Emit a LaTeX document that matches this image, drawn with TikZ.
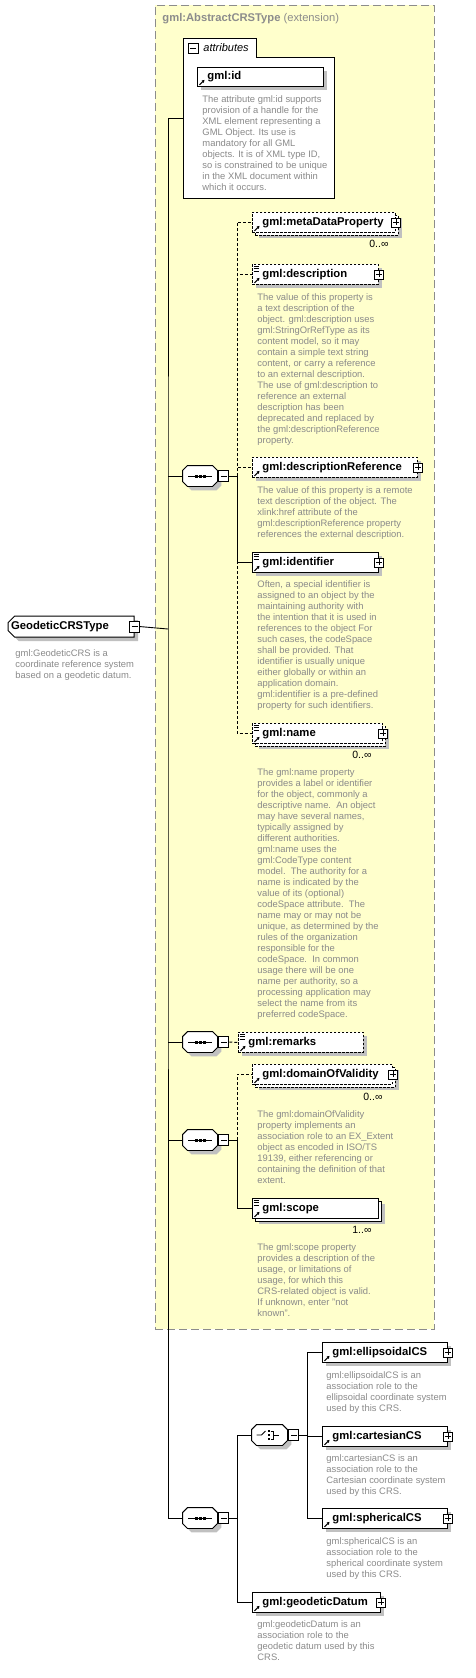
\documentclass[tikz,border=0pt]{standalone}
\usepackage{fontspec}
\setmainfont{Liberation Sans}
\usetikzlibrary{arrows.meta,positioning,shapes.misc,shadows}

\definecolor{xsyellow}{HTML}{FFFFCC}
\definecolor{xsframe}{HTML}{8C8C8C}
\definecolor{xsshadow}{HTML}{C0C0C0}
\definecolor{xsdoc}{HTML}{8A8A8A}

\newcommand{\labfont}{\fontsize{11.3}{13}\selectfont\bfseries}
\newcommand{\docfont}{\fontsize{9.4}{11}\selectfont}

% marks inside the element boxes
\newcommand{\refmark}[1]{\draw[line width=1.1pt,-{Triangle[length=2.6pt,width=3pt]}] ([shift={(2.5,-2)}]#1.south west) -- ++(5,-5);}
\newcommand{\docmark}[1]{\foreach \k in {2,4.5,7} \draw[line width=0.7pt,solid] ([shift={(1.5,\k)}]#1.north west) -- ++(5.5,0);}
\newcommand{\plusmark}[1]{\draw[line width=0.8pt,solid,fill=white] ([shift={(-4.5,-4.5)}]#1.east) rectangle ++(9,9);
  \draw[line width=0.8pt] ([shift={(-3,0)}]#1.east) -- ++(6,0) ([shift={(0,-3)}]#1.east) -- ++(0,6);}
% compositor outline and icons
\newcommand{\octapath}[1]{([xshift=5pt]#1.north west) -- ([xshift=-5pt]#1.north east) -- ([yshift=-5pt]#1.north east) -- ([yshift=5pt]#1.south east) -- ([xshift=-5pt]#1.south east) -- ([xshift=5pt]#1.south west) -- ([yshift=5pt]#1.south west) -- ([yshift=-5pt]#1.north west) -- cycle}
\newcommand{\octa}[1]{\fill[xsshadow,transform canvas={shift={(4pt,-4pt)}}] \octapath{#1};
  \draw[fill=white] \octapath{#1};}
\newcommand{\seqicon}[1]{\draw ([xshift=-12pt]#1.center) -- ([xshift=12pt]#1.center);
  \foreach \n in {-4,0,4} \fill ([shift={(\n-1.5,-1.5)}]#1.center) rectangle ++(3,3);}
\newcommand{\choiceicon}[1]{\draw ([xshift=-13pt]#1.center) -- ++(5,0) -- ++(4,-4);
  \foreach \n in {-4,0,4} \fill ([shift={(-2,\n-1.2)}]#1.center) rectangle ++(2.4,2.4);
  \draw ([shift={(1,-4)}]#1.center) -- ++(3,0) -- ++(0,8) -- ++(-3,0) ([shift={(4,0)}]#1.center) -- ++(5,0);}

\begin{document}
\begin{tikzpicture}[x=1pt,y=-1pt,line width=0.9pt,
  box/.style={draw,fill=white,anchor=north west,minimum height=20pt,text width=#1pt,inner xsep=0pt,inner ysep=0pt,align=left,font=\labfont,execute at begin node={\hspace*{10pt}}},
  elem/.style={box=#1,drop shadow={shadow xshift=4pt,shadow yshift=-4pt,fill=xsshadow,opacity=1}},
  opt/.style={elem=#1,dash pattern=on 2.5pt off 1.5pt},
  multi/.style={box=#1,drop shadow={shadow xshift=7pt,shadow yshift=-6pt,fill=xsshadow,opacity=1},copy shadow={shadow xshift=3pt,shadow yshift=-3pt}},
  optmulti/.style={multi=#1,dash pattern=on 2.5pt off 1.5pt},
  doc/.style={anchor=north west,inner sep=0pt,align=left,text=xsdoc,font=\docfont},
  mult/.style={anchor=north east,inner sep=0pt,font=\fontsize{10.5}{11}\selectfont},
  comp/.style={minimum width=34pt,minimum height=20pt,inner sep=0pt},
  minus/.style={draw,fill=white,minimum width=10pt,minimum height=11pt,inner sep=0pt,line width=0.8pt,path picture={\draw ([xshift=2pt]path picture bounding box.west) -- ([xshift=-2pt]path picture bounding box.east);}},
  link/.style={dash pattern=on 3pt off 2pt}]
\useasboundingbox (0,0) rectangle (475,1678);

% extension frame
\node[draw=xsframe,dash pattern=on 8pt off 4pt,fill=xsyellow,anchor=north west,minimum width=279pt,minimum height=1324pt,inner sep=0pt] (ext) at (155,5) {};
\node[anchor=west,inner sep=0pt,text=xsframe,font=\fontsize{11.2}{13}\selectfont] (title) at (162,19) {\textbf{gml:AbstractCRSType} (extension)};

% attributes
\node[anchor=north west,minimum width=151pt,minimum height=160pt,inner sep=0pt] (attr) at (183,38) {};
\draw[fill=white] (attr.north west) -- ++(73,0) -- ++(0,19) -| (attr.south east) -- (attr.south west) -- cycle;
\node[minus,minimum height=10pt] (attrM) at (193,48.5) {};
\node[anchor=west,inner sep=0pt,font=\fontsize{11}{12}\selectfont\itshape] (attrT) at (203,48) {attributes};
\node[elem=126,minimum height=19pt] (gmlid) at (197,67) {gml:id};
\refmark{gmlid}
\node[doc] (gmlidD) at (202,95) {The attribute gml:id supports\\provision of a handle for the\\XML element representing a\\GML Object. Its use is\\mandatory for all GML\\objects. It is of XML type ID,\\so is constrained to be unique\\in the XML document within\\which it occurs.};

% root
\node[chamfered rectangle,chamfered rectangle corners={north west,south west},chamfered rectangle xsep=3pt,draw,fill=white,anchor=north west,minimum width=126pt,minimum height=21pt,inner sep=0pt,font=\labfont,drop shadow={shadow xshift=4pt,shadow yshift=-4pt,fill=xsshadow,opacity=1}] (root) at (11,619) {\makebox[120pt][l]{GeodeticCRSType}};
\node[minus] (rootM) at (root.east) {};
\node[doc] (rootD) at (15,649) {gml:GeodeticCRS is a\\coordinate reference system\\based on a geodetic datum.};

% compositors
\node[comp] (s1) at (200,476) {};
\node[comp] (s2) at (200,1042) {};
\node[comp] (s3) at (200,1140) {};
\node[comp] (s4) at (200,1518) {};
\node[comp,minimum width=35pt] (ch) at (269.5,1435) {};
\foreach \s in {s1,s2,s3,s4,ch} {\octa{\s}}
\foreach \s in {s1,s2,s3,s4} {\seqicon{\s}}
\choiceicon{ch}
\node[minus,right=1pt of s1] (s1M) {};
\node[minus,right=1pt of s2] (s2M) {};
\node[minus,right=1pt of s3] (s3M) {};
\node[minus,right=1pt of s4] (s4M) {};
\node[minus,right=1pt of ch] (chM) {};

% elements
\node[optmulti=143] (meta) at (252,212) {gml:metaDataProperty};
\node[mult] (metaM) at (389,240) {0..∞};
\node[opt=126] (desc) at (252,264) {gml:description};
\node[doc] (descD) at (257,293) {The value of this property is\\a text description of the\\object. gml:description uses\\gml:StringOrRefType as its\\content model, so it may\\contain a simple text string\\content, or carry a reference\\to an external description.\\The use of gml:description to\\reference an external\\description has been\\deprecated and replaced by\\the gml:descriptionReference\\property.};
\node[opt=165] (descref) at (252,457) {gml:descriptionReference};
\node[doc] (descrefD) at (257,486) {The value of this property is a remote\\text description of the object. The\\xlink:href attribute of the\\gml:descriptionReference property\\references the external description.};
\node[elem=126] (ident) at (252,552) {gml:identifier};
\node[doc] (identD) at (257,580) {Often, a special identifier is\\assigned to an object by the\\maintaining authority with\\the intention that it is used in\\references to the object For\\such cases, the codeSpace\\shall be provided. That\\identifier is usually unique\\either globally or within an\\application domain.\\gml:identifier is a pre-defined\\property for such identifiers.};
\node[optmulti=130] (name) at (252,723) {gml:name};
\node[mult] (nameM) at (372,751) {0..∞};
\node[doc] (nameD) at (257,768) {The gml:name property\\provides a label or identifier\\for the object, commonly a\\descriptive name.\ \ An object\\may have several names,\\typically assigned by\\different authorities.\\gml:name uses the\\gml:CodeType content\\model.\ \ The authority for a\\name is indicated by the\\value of its (optional)\\codeSpace attribute.\ \ The\\name may or may not be\\unique, as determined by the\\rules of the organization\\responsible for the\\codeSpace.\ \ In common\\usage there will be one\\name per authority, so a\\processing application may\\select the name from its\\preferred codeSpace.};
\node[opt=125] (remarks) at (238,1032) {gml:remarks};
\node[optmulti=140] (dov) at (252,1064) {gml:domainOfValidity};
\node[mult] (dovM) at (383,1093) {0..∞};
\node[doc] (dovD) at (257,1110) {The gml:domainOfValidity\\property implements an\\association role to an EX\_Extent\\object as encoded in ISO/TS\\19139, either referencing or\\containing the definition of that\\extent.};
\node[multi=126] (scope) at (252,1198) {gml:scope};
\node[mult] (scopeM) at (372,1226) {1..∞};
\node[doc] (scopeD) at (257,1243) {The gml:scope property\\provides a description of the\\usage, or limitations of\\usage, for which this\\CRS-related object is valid.\\If unknown, enter "not\\known".};
\node[elem=125] (ell) at (322,1342) {gml:ellipsoidalCS};
\node[doc] (ellD) at (326,1371) {gml:ellipsoidalCS is an\\association role to the\\ellipsoidal coordinate system\\used by this CRS.};
\node[elem=125] (cart) at (322,1426) {gml:cartesianCS};
\node[doc] (cartD) at (326,1454) {gml:cartesianCS is an\\association role to the\\Cartesian coordinate system\\used by this CRS.};
\node[elem=125] (sph) at (322,1508) {gml:sphericalCS};
\node[doc] (sphD) at (326,1537) {gml:sphericalCS is an\\association role to the\\spherical coordinate system\\used by this CRS.};
\node[elem=128] (datum) at (252,1592) {gml:geodeticDatum};
\node[doc] (datumD) at (257,1620) {gml:geodeticDatum is an\\association role to the\\geodetic datum used by this\\CRS.};

\foreach \e in {meta,desc,descref,ident,name,dov,scope,ell,cart,sph,datum} {\refmark{\e}}
\refmark{remarks}
\foreach \e in {desc,ident,name,remarks,scope} {\docmark{\e}}
\foreach \e in {meta,desc,descref,ident,name,dov,ell,cart,sph,datum} {\plusmark{\e}}

% connectors
\coordinate (trunk) at (168,629);
\draw (rootM.east) -- (trunk);
\draw (attr.west) -| (trunk) |- (s4.west);
\draw (trunk |- s1.west) -- (s1.west);
\draw (trunk |- s2.west) -- (s2.west);
\draw (trunk |- s3.west) -- (s3.west);

\coordinate (j1) at (237,476);
\draw (s1M.east) -- (j1);
\draw[link] (j1) |- (meta.west);
\draw[link] (j1) |- (desc.west);
\draw[link] (j1) |- (descref.west);
\draw (j1) |- (ident.west);
\draw[link] (j1) |- (name.west);

\draw[link] (s2M.east) -- (remarks.west);

\coordinate (j3) at (237,1140);
\draw (s3M.east) -- (j3);
\draw[link] (j3) |- (dov.west);
\draw (j3) |- (scope.west);

\coordinate (j4) at (237,1518);
\draw (s4M.east) -- (j4);
\draw (j4) |- (ch.west);
\draw (j4) |- (datum.west);

\coordinate (j5) at (307,1435);
\draw (chM.east) -- (j5);
\draw (j5) |- (ell.west);
\draw (j5) |- (cart.west);
\draw (j5) |- (sph.west);
\end{tikzpicture}
\end{document}
